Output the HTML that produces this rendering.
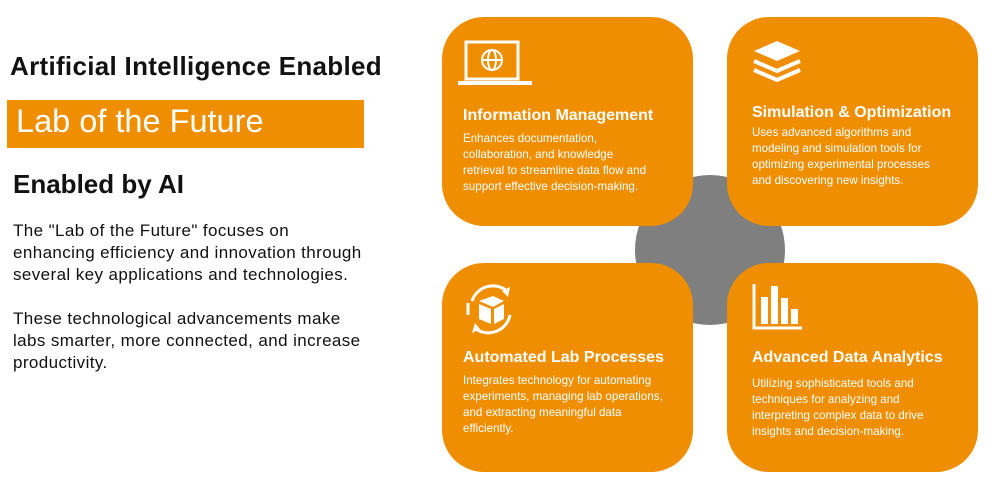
<!DOCTYPE html>
<html><head><meta charset="utf-8"><style>
html,body{margin:0;padding:0;background:#fff;}
body{width:1008px;height:478px;position:relative;overflow:hidden;font-family:"Liberation Sans",sans-serif;}
.a{position:absolute;white-space:nowrap;}
.card{position:absolute;width:251px;height:209px;background:#EE8E00;border-radius:42px;}
.t{position:absolute;color:#fff;font-weight:bold;font-size:16px;white-space:nowrap;}
.b{position:absolute;color:#fff;font-size:11.6px;line-height:16px;white-space:nowrap;}
</style></head><body>
<div class="a" style="left:10px;top:51px;font-size:26px;letter-spacing:0.3px;font-weight:bold;color:#111;">Artificial Intelligence Enabled</div>
<div class="a" style="left:7px;top:100px;width:357px;height:48px;background:#EE8E00;"></div>
<div class="a" style="left:16px;top:103px;font-size:32.5px;color:#fff;">Lab of the Future</div>
<div class="a" style="left:13px;top:169px;font-size:26px;font-weight:bold;color:#111;">Enabled by AI</div>
<div class="a" style="left:13px;top:220px;font-size:17px;letter-spacing:0.4px;line-height:22px;color:#111;">The "Lab of the Future" focuses on<br>enhancing efficiency and innovation through<br>several key applications and technologies.<br><br>These technological advancements make<br>labs smarter, more connected, and increase<br>productivity.</div>

<div class="a" style="left:635px;top:175px;width:150px;height:150px;border-radius:50%;background:#7F7F7F;"></div>

<div class="card" style="left:442px;top:17px;"></div>
<div class="card" style="left:727px;top:17px;"></div>
<div class="card" style="left:442px;top:263px;"></div>
<div class="card" style="left:727px;top:263px;"></div>

<svg class="a" style="left:455px;top:40px" width="80" height="50" viewBox="0 0 80 50">
<rect x="11" y="2" width="52" height="37" fill="none" stroke="#fff" stroke-width="3"/>
<rect x="3" y="41" width="74" height="4" fill="#fff"/>
<circle cx="37" cy="20" r="10" fill="none" stroke="#fff" stroke-width="2"/>
<ellipse cx="37" cy="20" rx="4" ry="10" fill="none" stroke="#fff" stroke-width="2"/>
<line x1="27" y1="20" x2="47" y2="20" stroke="#fff" stroke-width="2"/>
</svg>
<svg class="a" style="left:750px;top:38px" width="56" height="50" viewBox="0 0 56 50">
<polygon points="27,3 50,13 27,23 4,13" fill="#fff"/>
<polyline points="4,23 27,33 50,23" fill="none" stroke="#fff" stroke-width="4"/>
<polyline points="4,32 27,42 50,32" fill="none" stroke="#fff" stroke-width="4"/>
</svg>
<svg class="a" style="left:460px;top:279px" width="60" height="60" viewBox="0 0 60 60">
<path d="M12 22 A22 22 0 0 1 47 12" fill="none" stroke="#fff" stroke-width="3"/>
<polygon points="50,8 48,18 42,12" fill="#fff"/>
<path d="M50 36 A22 22 0 0 1 16 50" fill="none" stroke="#fff" stroke-width="3"/>
<polygon points="12,54 15,44 20,50" fill="#fff"/>
<path d="M8 36 L8 24" stroke="#fff" stroke-width="3"/>
<polygon points="19,22 33,17 44,22 33,28" fill="#fff"/>
<polygon points="19,25 31,30 31,45 19,40" fill="#fff"/>
<polygon points="34,30 44,25 44,40 34,45" fill="#fff"/>
</svg>
<svg class="a" style="left:752px;top:282px" width="52" height="50" viewBox="0 0 52 50">
<path d="M2 2 L2 46 L50 46" fill="none" stroke="#fff" stroke-width="3"/>
<rect x="9" y="15" width="7" height="27" fill="#fff"/>
<rect x="19" y="4" width="7" height="38" fill="#fff"/>
<rect x="29" y="16" width="7" height="26" fill="#fff"/>
<rect x="39" y="27" width="7" height="15" fill="#fff"/>
</svg>

<div class="t" style="left:463px;top:107px;">Information Management</div>
<div class="b" style="left:463px;top:131px;">Enhances documentation,<br>collaboration, and knowledge<br>retrieval to streamline data flow and<br>support effective decision-making.</div>

<div class="t" style="left:752px;top:104px;">Simulation &amp; Optimization</div>
<div class="b" style="left:752px;top:125px;">Uses advanced algorithms and<br>modeling and simulation tools for<br>optimizing experimental processes<br>and discovering new insights.</div>

<div class="t" style="left:463px;top:349px;">Automated Lab Processes</div>
<div class="b" style="left:463px;top:373px;">Integrates technology for automating<br>experiments, managing lab operations,<br>and extracting meaningful data<br>efficiently.</div>

<div class="t" style="left:752px;top:349px;">Advanced Data Analytics</div>
<div class="b" style="left:752px;top:376px;">Utilizing sophisticated tools and<br>techniques for analyzing and<br>interpreting complex data to drive<br>insights and decision-making.</div>
</body></html>
